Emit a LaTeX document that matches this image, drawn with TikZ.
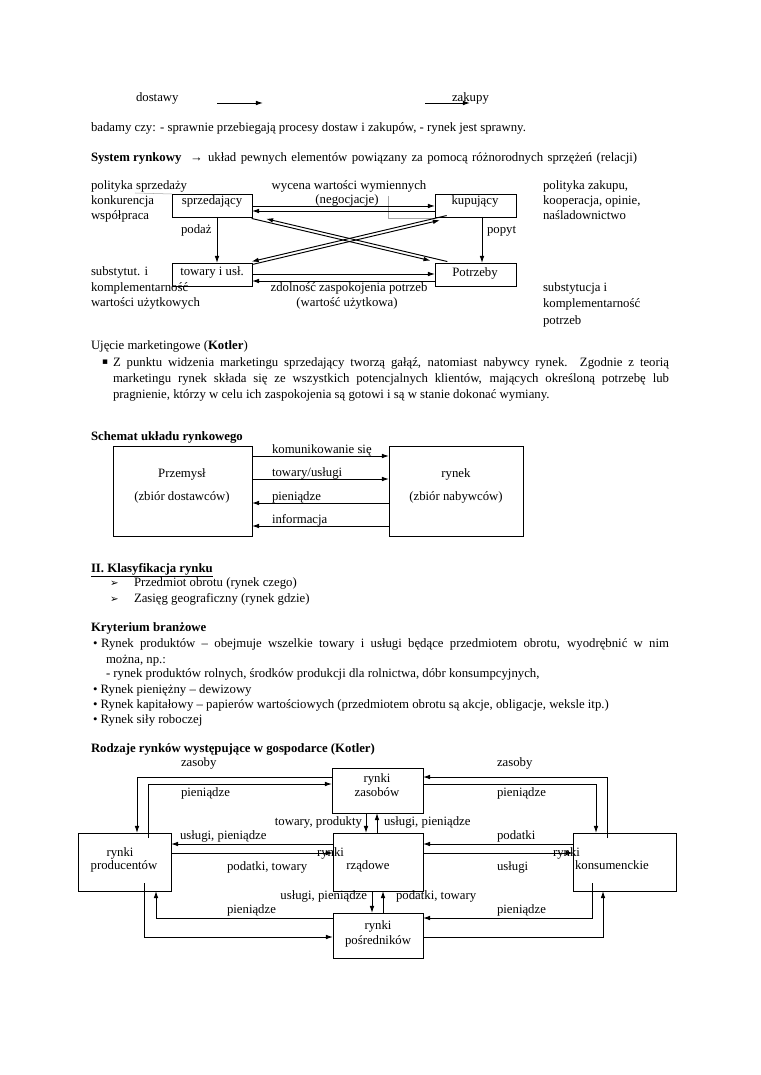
\documentclass[tikz,border=0pt]{standalone}
\usepackage{fontspec}
\setmainfont{Liberation Serif}
\newfontfamily\symfont{DejaVu Sans}
\usetikzlibrary{arrows.meta,calc,fit}
\newcommand{\fsz}{\fontsize{10pt}{12pt}\selectfont}
\begin{document}
\begin{tikzpicture}[x=0.78289pt,y=-0.78289pt,
  txt/.style={inner sep=0pt, outer sep=0pt, font=\fsz, anchor=base west},
  ctr/.style={inner sep=0pt, outer sep=0pt, font=\fsz, anchor=base},
  rgt/.style={inner sep=0pt, outer sep=0pt, font=\fsz, anchor=base east},
  box/.style={draw, line width=0.75pt, inner sep=0pt, outer sep=0pt},
  ln/.style={line width=0.75pt},
  arr/.style={line width=0.75pt, -{Latex[length=5.5pt,width=3.6pt]}},
  faint/.style={draw=black!35, line width=0.4pt}]
\fill[white] (0,0) rectangle (760,1075);
\useasboundingbox (0,0) rectangle (760,1075);

% ---------- top lines ----------
\node[txt] (t1) at (136,102) {dostawy};
\coordinate (d1) at (217,103); \coordinate (d2) at (263,103);
\draw[arr] (d1) -- (d2);
\coordinate (z1) at (425,103); \coordinate (z2) at (470,103);
\draw[arr] (z1) -- (z2);
\node[txt] (t2) at (452,102) {zakupy};
\node[txt] (t3) at (91,132) {badamy czy: - sprawnie przebiegają procesy dostaw i zakupów, - rynek jest sprawny.};
\node[txt] (t4) at (91,162) {\textbf{System rynkowy}};
\node[txt] (t4a) at (190,162) {→};
\node[txt] (t4b) at (208,162) {\makebox[335.9pt][s]{układ pewnych elementów powiązany za pomocą różnorodnych sprzężeń (relacji)}};

% ---------- diagram 1 ----------
\node[box, fit={(172,194) (252,217)}] (sp) {};
\node[box, fit={(435,194) (516,217)}] (ku) {};
\node[box, fit={(172,263) (252,286)}] (tw) {};
\node[box, fit={(435,263) (516,286)}] (po) {};
\node[ctr] (spt) at (212,205) {sprzedający};
\node[ctr] (kut) at (475,205) {kupujący};
\node[ctr] (twt) at (212,276) {towary i usł.};
\node[ctr] (pot) at (475,277) {Potrzeby};

\draw[faint] (135,193) -- (sp.north west);
\draw[faint] ($(ku.north west)+(-47,2)$) -- ($(ku.south west)+(-47,1)$) -- ($(ku.south west)+(0,1)$);

\draw[arr] ($(sp.north east)+(0,12)$) -- ($(ku.north west)+(0,12)$);
\draw[arr] ($(ku.north west)+(0,17)$) -- ($(sp.north east)+(0,17)$);
\draw[arr] ($(sp.south west)+(45,0)$) -- ($(tw.north west)+(45,0)$);
\draw[arr] ($(ku.south west)+(47,0)$) -- ($(po.north west)+(47,0)$);
\draw[arr] ($(tw.north east)+(0,11)$) -- ($(po.north west)+(0,11)$);
\draw[arr] ($(po.north west)+(0,18)$) -- ($(tw.north east)+(0,18)$);

\coordinate (a1) at (sp.south east);
\coordinate (a2) at ($(po.north west)+(12,0)$);
\draw[arr, shorten >=13pt] ($(a1)+(-0.35,1.46)$) -- ($(a2)+(-0.35,1.46)$);
\draw[arr, shorten >=11pt] ($(a2)+(0.35,-1.46)$) -- ($(a1)+(0.35,-1.46)$);
\coordinate (b1) at ($(ku.south west)+(12,0)$);
\coordinate (b2) at (tw.north east);
\draw[arr] ($(b1)+(-0.35,-1.46)$) -- ($(b2)+(-0.35,-1.46)$);
\draw[arr, shorten >=6pt] ($(b2)+(0.35,1.46)$) -- ($(b1)+(0.35,1.46)$);

\node[ctr] (m1) at (349,190) {wycena wartości wymiennych};
\node[ctr] (m2) at (347,204) {(negocjacje)};
\node[ctr] (m3) at (349,292) {zdolność zaspokojenia potrzeb};
\node[ctr] (m4) at (347,307) {(wartość użytkowa)};
\node[txt] (pz) at (181,234) {podaż};
\node[txt] (pp) at (487,234) {popyt};

\node[txt] (l1) at (91,190) {polityka sprzedaży};
\node[txt] (l2) at (91,205) {konkurencja};
\node[txt] (l3) at (91,220) {współpraca};
\node[txt] (l4) at (91,276) {substytut. i};
\node[txt] (l5) at (91,292) {komplementarność};
\node[txt] (l6) at (91,307) {wartości użytkowych};
\node[txt] (r1) at (543,190) {polityka zakupu,};
\node[txt] (r2) at (543,205) {kooperacja, opinie,};
\node[txt] (r3) at (543,220) {naśladownictwo};
\node[txt] (r4) at (543,292) {substytucja i};
\node[txt] (r5) at (543,308) {komplementarność};
\node[txt] (r6) at (543,324) {potrzeb};

% ---------- Kotler paragraph ----------
\node[txt] (u0) at (91,349) {Ujęcie marketingowe (\textbf{Kotler})};
\node[txt] (ub) at (102,365) {\symfont\fontsize{7pt}{7pt}\selectfont ▪};
\node[txt] (u1) at (113,366) {\makebox[435.3pt][s]{Z punktu widzenia marketingu sprzedający tworzą gałąź, natomiast nabywcy rynek. Zgodnie z teorią}};
\node[txt] (u2) at (113,382) {\makebox[435.3pt][s]{marketingu rynek składa się ze wszystkich potencjalnych klientów, mających określoną potrzebę lub}};
\node[txt] (u3) at (113,398) {pragnienie, którzy w celu ich zaspokojenia są gotowi i są w stanie dokonać wymiany.};

% ---------- Schemat ----------
\node[txt] (s0) at (91,440) {\textbf{Schemat układu rynkowego}};
\node[box, fit={(113,446) (252,536)}] (pr) {};
\node[box, fit={(389,446) (523,536)}] (ry) {};
\node[ctr] (s1) at (182,477) {Przemysł};
\node[ctr] (s2) at (182,500) {(zbiór dostawców)};
\node[ctr] (s3) at (456,477) {rynek};
\node[ctr] (s4) at (456,500) {(zbiór nabywców)};
\draw[arr] ($(pr.north east)+(0,10)$) -- ($(ry.north west)+(0,10)$);
\draw[arr] ($(pr.north east)+(0,33)$) -- ($(ry.north west)+(0,33)$);
\draw[arr] ($(ry.north west)+(0,57)$) -- ($(pr.north east)+(0,57)$);
\draw[arr] ($(ry.north west)+(0,80)$) -- ($(pr.north east)+(0,80)$);
\node[txt] (k1) at (272,453) {komunikowanie się};
\node[txt] (k2) at (272,476) {towary/usługi};
\node[txt] (k3) at (272,500) {pieniądze};
\node[txt] (k4) at (272,523) {informacja};

% ---------- Klasyfikacja ----------
\node[txt] (c0) at (91,572) {\textbf{\underline{II. Klasyfikacja rynku}}};
\node[txt] (c1a) at (110,586) {\symfont\fontsize{8pt}{8pt}\selectfont ➢};
\node[txt] (c1) at (134,586) {Przedmiot obrotu (rynek czego)};
\node[txt] (c2a) at (110,602) {\symfont\fontsize{8pt}{8pt}\selectfont ➢};
\node[txt] (c2) at (134,602) {Zasięg geograficzny (rynek gdzie)};
\node[txt] (c3) at (91,631) {\textbf{Kryterium branżowe}};
\node[txt] (c4a) at (93,647) {•};
\node[txt] (c4) at (101,647) {\makebox[444.7pt][s]{Rynek produktów – obejmuje wszelkie towary i usługi będące przedmiotem obrotu, wyodrębnić w nim}};
\node[txt] (c5) at (106,663) {można, np.:};
\node[txt] (c6) at (106,677) {- rynek produktów rolnych, środków produkcji dla rolnictwa, dóbr konsumpcyjnych,};
\node[txt] (c7) at (93,693) {• Rynek pieniężny – dewizowy};
\node[txt] (c8) at (93,708) {• Rynek kapitałowy – papierów wartościowych (przedmiotem obrotu są akcje, obligacje, weksle itp.)};
\node[txt] (c9) at (93,723) {• Rynek siły roboczej};
\node[txt] (c10) at (91,752) {\textbf{Rodzaje rynków występujące w gospodarce (Kotler)}};

% ---------- bottom diagram ----------
\node[box, fit={(332,768) (423,813)}] (zs) {};
\node[box, fit={(78,833) (171,891)}] (pd) {};
\node[box, fit={(333,833) (423,891)}] (rz) {};
\node[box, fit={(573,833) (676,891)}] (ks) {};
\node[box, fit={(333,913) (423,958)}] (ps) {};

\node[ctr] (zs1) at (377,782) {rynki};
\node[ctr] (zs2) at (377,796) {zasobów};
\node[ctr] (pd1) at (120,856) {rynki};
\node[ctr] (pd2) at (124,869) {producentów};
\node[txt] (rz1) at (317,856) {rynki};
\node[ctr] (rz2) at (368,869) {rządowe};
\node[txt] (ks1) at (553,856) {rynki};
\node[txt] (ks2) at (575,869) {konsumenckie};
\node[ctr] (ps1) at (378,929) {rynki};
\node[ctr] (ps2) at (378,944) {pośredników};

\draw[arr] ($(zs.north west)+(0,9)$) -| ($(pd.north west)+(59,0)$);
\draw[arr] ($(pd.north west)+(70,5)$) |- ($(zs.north west)+(0,16)$);
\draw[arr] ($(ks.north west)+(34,5)$) |- ($(zs.north east)+(0,9)$);
\draw[arr] ($(zs.north east)+(0,16)$) -| ($(ks.north west)+(23,0)$);
\draw[arr] ($(zs.south west)+(34,0)$) -- ($(rz.north west)+(33,0)$);
\draw[arr] ($(rz.north west)+(44,0)$) -- ($(zs.south west)+(45,0)$);
\draw[arr] ($(rz.north west)+(0,11)$) -- ($(pd.north east)+(0,11)$);
\draw[arr] ($(pd.north east)+(0,20)$) -- ($(rz.north west)+(0,20)$);
\draw[arr] ($(ks.north west)+(0,11)$) -- ($(rz.north east)+(0,11)$);
\draw[arr] ($(rz.north east)+(0,20)$) -- ($(ks.north west)+(0,20)$);
\draw[arr] ($(rz.south west)+(39,0)$) -- ($(ps.north west)+(39,0)$);
\draw[arr] ($(ps.north west)+(50,0)$) -- ($(rz.south west)+(50,0)$);
\draw[arr] ($(ps.north west)+(0,5)$) -| ($(pd.south west)+(78,0)$);
\draw[arr] ($(pd.south west)+(66,-8)$) |- ($(ps.north west)+(0,24)$);
\draw[arr] ($(ks.south west)+(19,-8)$) |- ($(ps.north east)+(0,5)$);
\draw[arr] ($(ps.north east)+(0,24)$) -| ($(ks.south west)+(30,0)$);

\node[txt] (e1) at (181,766) {zasoby};
\node[txt] (e2) at (181,796) {pieniądze};
\node[txt] (e3) at (497,766) {zasoby};
\node[txt] (e4) at (497,796) {pieniądze};
\node[rgt] (e5) at (362,825) {towary, produkty};
\node[txt] (e6) at (384,825) {usługi, pieniądze};
\node[txt] (e7) at (180,839) {usługi, pieniądze};
\node[txt] (e8) at (497,839) {podatki};
\node[txt] (e9) at (227,870) {podatki, towary};
\node[txt] (e10) at (497,870) {usługi};
\node[rgt] (e11) at (367,899) {usługi, pieniądze};
\node[txt] (e12) at (396,899) {podatki, towary};
\node[txt] (e13) at (227,913) {pieniądze};
\node[txt] (e14) at (497,913) {pieniądze};
\end{tikzpicture}
\end{document}
